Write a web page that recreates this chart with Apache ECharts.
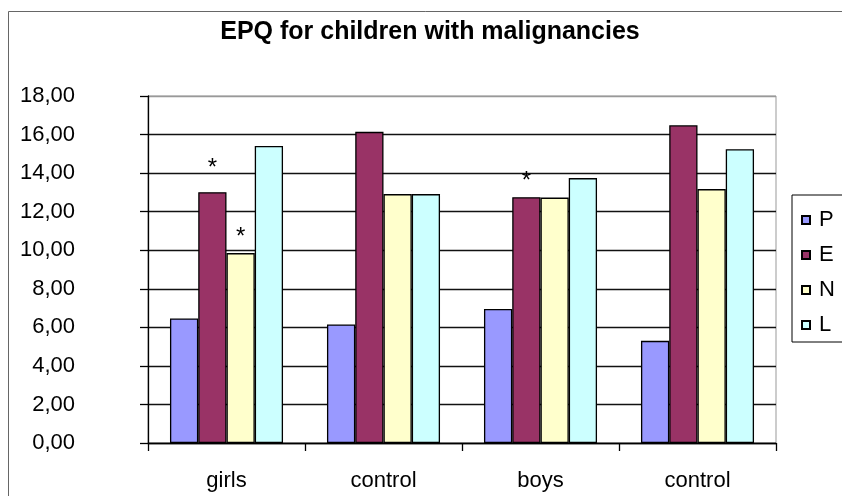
<!DOCTYPE html>
<html>
<head>
<meta charset="utf-8">
<script src="https://cdn.jsdelivr.net/npm/echarts@6/dist/echarts.min.js"></script>
<style>
html,body{margin:0;padding:0;background:#fff;}
#chart{width:842px;height:496px;}
</style>
</head>
<body>
<div id="chart"></div>
<script>
const titleText = 'EPQ for children with malignancies';
const categories = ['girls', 'control', 'boys', 'control'];
const seriesNames = ['P', 'E', 'N', 'L'];
const valuesP = [6.46, 6.15, 6.95, 5.30];
const valuesE = [13.01, 16.14, 12.75, 16.48];
const valuesN = [9.85, 12.91, 12.73, 13.17];
const valuesL = [15.41, 12.91, 13.74, 15.24];
const starsE = [true, false, true, false];
const starsN = [true, false, false, false];
const starDistE = [12, 0, 4, 0];
const starDistN = [4, 0, 0, 0];
const colors = ['#9999FF', '#993366', '#FFFFCC', '#CCFFFF'];
const yTicks = [0, 2, 4, 6, 8, 10, 12, 14, 16, 18];

const FONT = "'Liberation Sans', Arial, sans-serif";

function withStars(vals, stars, dists) {
  return vals.map((v, i) => stars[i] ? {
    value: v,
    label: {
      show: true, position: 'top', distance: dists[i], formatter: '*',
      fontSize: 24, color: '#000', fontFamily: FONT
    }
  } : v);
}

const allData = [
  valuesP,
  withStars(valuesE, starsE, starDistE),
  withStars(valuesN, starsN, starDistN),
  valuesL
];

const chart = echarts.init(document.getElementById('chart'), null, {renderer: 'canvas'});
const splitColors = yTicks.map((t, i) => i === yTicks.length - 1 ? '#999999' : '#111111');

chart.setOption({
  animation: false,
  backgroundColor: '#fff',
  textStyle: {fontFamily: FONT},
  title: {
    text: titleText,
    left: 425,
    top: 15,
    textAlign: 'center',
    textStyle: {fontSize: 25, fontWeight: 'bold', color: '#000', fontFamily: FONT}
  },
  graphic: [{
    type: 'rect', z: -10, silent: true,
    shape: {x: 8.5, y: 11.5, width: 900, height: 600},
    style: {fill: 'none', stroke: '#666', lineWidth: 1}
  }],
  legend: {
    orient: 'vertical',
    left: 792,
    top: 195,
    data: seriesNames,
    itemWidth: 8,
    itemHeight: 8,
    itemGap: 13,
    icon: 'rect',
    padding: [14, 40, 6, 9],
    borderColor: '#000',
    borderWidth: 1,
    textStyle: {fontSize: 22, color: '#000', fontFamily: FONT, lineHeight: 22, padding: [0, 0, 0, 4]}
  },
  grid: {
    left: 148, top: 96, right: 66, bottom: 53,
    show: true, borderColor: '#999999', borderWidth: 1, backgroundColor: 'transparent'
  },
  xAxis: {
    type: 'category',
    data: categories,
    axisLine: {lineStyle: {color: '#000', width: 1.3}},
    axisTick: {show: true, length: 8, lineStyle: {color: '#000', width: 1.3}},
    axisLabel: {fontSize: 22, color: '#000', margin: 27, fontFamily: FONT},
    splitLine: {show: false}
  },
  yAxis: {
    type: 'value',
    min: 0, max: 18, interval: 2,
    axisLine: {show: true, lineStyle: {color: '#000', width: 1.3}},
    axisTick: {show: true, length: 8, lineStyle: {color: '#000', width: 1.3}},
    axisLabel: {
      fontSize: 22, color: '#000', margin: 73, align: 'right', fontFamily: FONT,
      formatter: v => v.toFixed(2).replace('.', ',')
    },
    splitLine: {show: true, lineStyle: {color: splitColors, width: 1.3}}
  },
  series: seriesNames.map((name, i) => ({
    name: name,
    type: 'bar',
    data: allData[i],
    barGap: '0%',
    barCategoryGap: '28%',
    itemStyle: {color: colors[i], borderColor: '#000', borderWidth: 1.3}
  }))
});
</script>
</body>
</html>
